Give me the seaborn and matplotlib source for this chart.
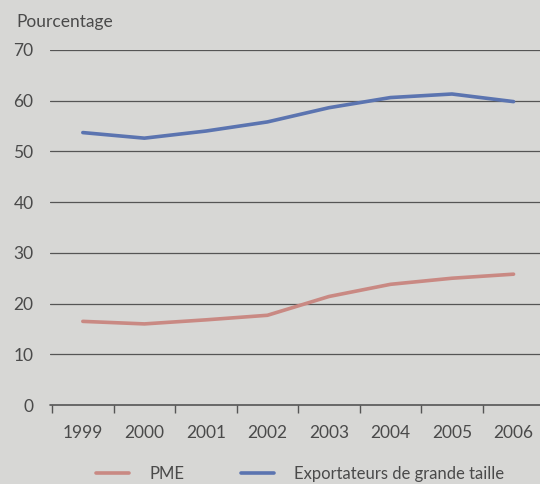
import numpy as np
import pandas as pd
import matplotlib
matplotlib.use("Agg")
import matplotlib.pyplot as plt
import seaborn as sns
from matplotlib.lines import Line2D

# values (percent)
years = [1999, 2000, 2001, 2002, 2003, 2004, 2005, 2006]
pme = [16.5, 16.0, 16.8, 17.7, 21.4, 23.8, 25.0, 25.8]
grandes = [53.7, 52.6, 54.0, 55.8, 58.6, 60.6, 61.3, 59.8]
series_names = ["PME", "Exportateurs de grande taille"]
y_ticks = [0, 10, 20, 30, 40, 50, 60, 70]

df = pd.DataFrame({
    "annee": years * 2,
    "valeur": pme + grandes,
    "serie": [series_names[0]] * len(years) + [series_names[1]] * len(years),
})

sns.set_theme(style="white")
plt.rcParams['font.family'] = ['Lato', 'DejaVu Sans']

bg = "#d7d7d5"
txt = "#4a4a4a"
palette = {series_names[0]: "#c98983", series_names[1]: "#5b74b0"}

fig = plt.figure(figsize=(5.4, 4.84), dpi=100, facecolor=bg)
ax = fig.add_axes([0.093, 0.163, 0.907, 0.734])
ax.set_facecolor(bg)

sns.lineplot(data=df, x="annee", y="valeur", hue="serie", palette=palette,
             linewidth=2.6, ax=ax, legend=False)

ax.set_xlim(1998.47, 2006.43)
ax.set_ylim(0, 70)
ax.set_yticks(y_ticks)
ax.set_xticks(years)
ax.set_xticks([y - 0.5 for y in years], minor=True)
for v in y_ticks[1:]:
    ax.axhline(v, color="#555555", linewidth=0.9, zorder=0)
for s in ax.spines.values():
    s.set_visible(False)
ax.axhline(0, color="#555555", linewidth=1.2, zorder=0, clip_on=False)

ax.tick_params(axis="x", which="major", bottom=False, length=0, pad=14,
               labelsize=12.5, labelcolor=txt)
ax.tick_params(axis="x", which="minor", bottom=True, length=5.5, width=1,
               color="#555555", direction="out")
ax.tick_params(axis="y", left=False, length=0, pad=12, labelsize=12.5, labelcolor=txt)
ax.set_xlabel("")
ax.set_ylabel("")

fig.text(0.031, 0.955, "Pourcentage", fontsize=12.5, color=txt, va="center", ha="left")

# legend drawn below the axes
handles = [Line2D([], [], color=palette[n], linewidth=2.6) for n in series_names]
fig.legend(handles, series_names, loc="center", bbox_to_anchor=(0.556, 0.02),
           ncol=2, frameon=False, fontsize=12, labelcolor=txt,
           handlelength=2.0, columnspacing=3.4, handletextpad=1.2)

fig.savefig("out.png", dpi=100, facecolor=bg)
